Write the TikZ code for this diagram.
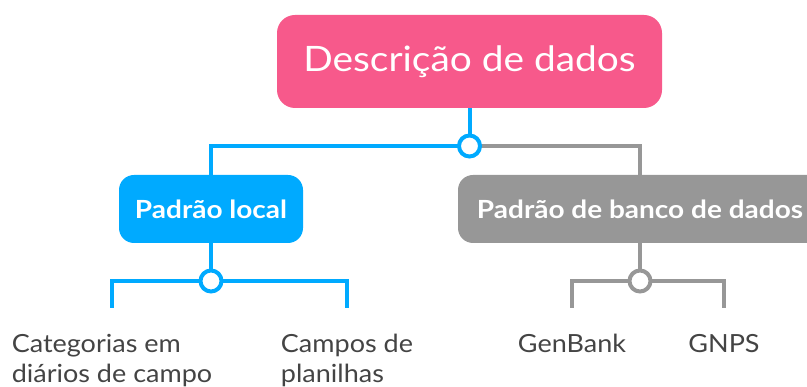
\documentclass[tikz,border=0pt]{standalone}
\usepackage{fontspec}
\setmainfont{Lato}
\newfontfamily\rootfont[FakeStretch=1.11]{Lato}
\newfontfamily\subfont[FakeStretch=1.12]{Lato}
\newfontfamily\leaffont[FakeStretch=1.08]{Lato}
\definecolor{rootpink}{HTML}{F7598B}
\definecolor{topblue}{HTML}{00AAFF}
\definecolor{topgray}{HTML}{979797}
\definecolor{leaftext}{HTML}{444444}
\begin{document}
\begin{tikzpicture}[x=1pt,y=-1pt,
  rootbox/.style={fill=rootpink,rounded corners=18pt,minimum width=385pt,minimum height=93pt,inner sep=0pt,text=white,font=\rootfont\fontsize{35}{40}\selectfont},
  subbox/.style={rounded corners=15pt,minimum height=68pt,inner sep=0pt,text=white,font=\subfont\bfseries\fontsize{25}{30}\selectfont},
  joint/.style={circle,draw,fill=white,line width=4pt,minimum size=21pt,inner sep=0pt},
  conn/.style={line width=4pt},
  leaf/.style={text=leaftext,align=left,inner sep=0pt,anchor=north,font=\leaffont\fontsize{25}{30}\selectfont}]
\useasboundingbox (0,0) rectangle (807,387);
\clip (0,0) rectangle (807,387);
% nodes
\node[rootbox] (root) at (469.5,61.5) {Descrição de dados};
\node[subbox,fill=topblue,minimum width=184pt] (local) at (211,209) {Padrão local};
\node[subbox,fill=topgray,minimum width=364pt] (db) at (640,209) {Padrão de banco de dados};
\node[leaf] (l1) at (112,334) {Categorias em\\diários de campo};
\node[leaf] (l2) at (347,334) {Campos de\\planilhas};
\node[leaf] (l3) at (572,334) {GenBank};
\node[leaf] (l4) at (724,334) {GNPS};
% junction points
\coordinate (j0) at (469.5,146);
\coordinate (j1) at (211,281);
\coordinate (j2) at (640,281);
\coordinate (e1) at (l1.north |- 0,308);
\coordinate (e2) at (l2.north |- 0,308);
\coordinate (e3) at (l3.north |- 0,308);
\coordinate (e4) at (l4.north |- 0,308);
% connectors
\draw[conn,topgray] (j0) -| (db.north);
\draw[conn,topblue] (root.south) -- (j0);
\draw[conn,topblue] (j0) -| (local.north);
\draw[conn,topblue] (local.south) -- (j1);
\draw[conn,topblue] (e1) |- (j1) -| (e2);
\draw[conn,topgray] (db.south) -- (j2);
\draw[conn,topgray] (e3) |- (j2) -| (e4);
\node[joint,draw=topblue] (c0) at (j0) {};
\node[joint,draw=topblue] (c1) at (j1) {};
\node[joint,draw=topgray] (c2) at (j2) {};
\end{tikzpicture}
\end{document}
